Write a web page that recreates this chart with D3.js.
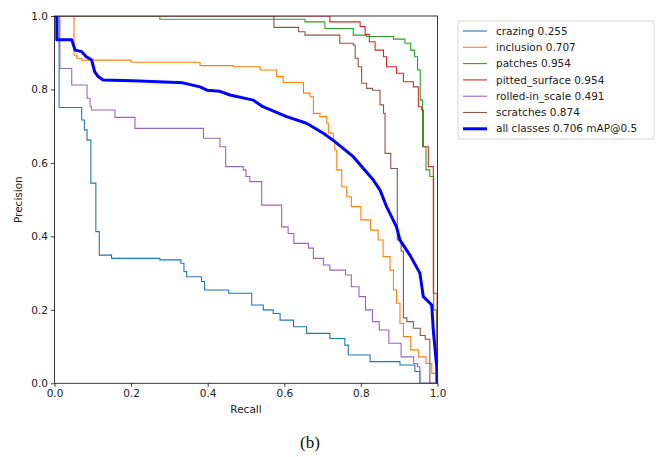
<!DOCTYPE html>
<html>
<head>
<meta charset="utf-8">
<script src="https://cdn.jsdelivr.net/npm/d3@7"></script>
<style>
  html, body { margin: 0; padding: 0; background: #fff; }
  #wrapper { width: 666px; height: 457px; }
  text { font-family: "DejaVu Sans", sans-serif; }
</style>
</head>
<body>
<div id="wrapper"></div>
<script>
// 1. Data: [recall where a precision level starts, precision]
const crazing = [
  [0, 1.0], [0.012, 0.751], [0.071, 0.717], [0.078, 0.69], [0.085, 0.662],
  [0.095, 0.545], [0.108, 0.413], [0.117, 0.349], [0.149, 0.34], [0.275, 0.336],
  [0.33, 0.327], [0.338, 0.304], [0.345, 0.29], [0.384, 0.277], [0.392, 0.254],
  [0.455, 0.245], [0.515, 0.213], [0.545, 0.2], [0.571, 0.19], [0.589, 0.172],
  [0.624, 0.154], [0.658, 0.136], [0.719, 0.122], [0.758, 0.104], [0.767, 0.077],
  [0.824, 0.059], [0.902, 0.05], [0.941, 0.032], [0.954, 0], [1.0, 0]
]
const inclusion = [
  [0, 1.0], [0.051, 0.894], [0.058, 0.885], [0.071, 0.88], [0.2, 0.874],
  [0.38, 0.865], [0.467, 0.862], [0.537, 0.853], [0.58, 0.835], [0.597, 0.819],
  [0.65, 0.79], [0.667, 0.78], [0.676, 0.735], [0.693, 0.726], [0.711, 0.708],
  [0.715, 0.681], [0.728, 0.662], [0.732, 0.635], [0.737, 0.581], [0.75, 0.535],
  [0.763, 0.508], [0.775, 0.481], [0.8, 0.445], [0.825, 0.417], [0.845, 0.39],
  [0.858, 0.345], [0.876, 0.308], [0.885, 0.254], [0.893, 0.218], [0.902, 0.163],
  [0.911, 0.127], [0.93, 0.091], [0.95, 0.072], [0.97, 0.054], [0.985, 0.027],
  [0.995, 0], [1.0, 0]
]
const patches = [
  [0, 1.0], [0.275, 0.991], [0.654, 0.984], [0.706, 0.966], [0.78, 0.948],
  [0.815, 0.944], [0.885, 0.937], [0.915, 0.926], [0.93, 0.907], [0.94, 0.889],
  [0.948, 0.853], [0.955, 0.771], [0.961, 0.644], [0.97, 0.581], [0.98, 0.563],
  [0.99, 0.2], [0.997, 0], [1.0, 0]
]
const pittedSurface = [
  [0, 1.0], [0.719, 0.984], [0.798, 0.971], [0.811, 0.95], [0.822, 0.93],
  [0.837, 0.907], [0.859, 0.889], [0.867, 0.862], [0.893, 0.844], [0.911, 0.821],
  [0.937, 0.807], [0.95, 0.753], [0.959, 0.744], [0.963, 0.644], [0.976, 0.59],
  [0.989, 0.245], [0.999, 0], [1.0, 0]
]
const rolledInScale = [
  [0, 1.0], [0.014, 0.857], [0.045, 0.812], [0.085, 0.776], [0.093, 0.753],
  [0.097, 0.744], [0.158, 0.724], [0.21, 0.694], [0.389, 0.667], [0.432, 0.644],
  [0.447, 0.59], [0.493, 0.581], [0.5, 0.563], [0.51, 0.549], [0.541, 0.485],
  [0.593, 0.426], [0.61, 0.408], [0.625, 0.381], [0.663, 0.368], [0.676, 0.34],
  [0.702, 0.322], [0.719, 0.308], [0.76, 0.295], [0.775, 0.263], [0.795, 0.236],
  [0.812, 0.2], [0.83, 0.168], [0.848, 0.145], [0.873, 0.109], [0.905, 0.072],
  [0.938, 0.054], [0.948, 0.045], [0.954, 0], [1.0, 0]
]
const scratches = [
  [0, 1.0], [0.573, 0.969], [0.637, 0.957], [0.654, 0.948], [0.745, 0.926],
  [0.78, 0.921], [0.785, 0.885], [0.793, 0.862], [0.802, 0.817], [0.815, 0.803],
  [0.83, 0.798], [0.85, 0.758], [0.859, 0.735], [0.863, 0.626], [0.878, 0.585],
  [0.895, 0.39], [0.905, 0.36], [0.911, 0.178], [0.92, 0.168], [0.937, 0.15],
  [0.955, 0.13], [0.968, 0.12], [0.98, 0], [1.0, 0]
]
// mean curve, drawn as a polyline
const allClasses = [
  [0, 1.0], [0.006, 1.0], [0.006, 0.935], [0.045, 0.935], [0.054, 0.907],
  [0.071, 0.903], [0.083, 0.889], [0.097, 0.88], [0.105, 0.848], [0.114, 0.835],
  [0.127, 0.826], [0.205, 0.824], [0.335, 0.818], [0.38, 0.807], [0.398, 0.798],
  [0.432, 0.795], [0.458, 0.785], [0.519, 0.771], [0.544, 0.753], [0.606, 0.726],
  [0.658, 0.708], [0.702, 0.681], [0.732, 0.658], [0.78, 0.617], [0.832, 0.554],
  [0.85, 0.526], [0.867, 0.481], [0.893, 0.426], [0.902, 0.39], [0.928, 0.349],
  [0.954, 0.3], [0.963, 0.236], [0.985, 0.213], [0.989, 0.145], [0.998, 0.045],
  [1.0, 0]
]

const classNames = ["crazing", "inclusion", "patches", "pitted_surface", "rolled-in_scale", "scratches"]
const classAP = [0.255, 0.707, 0.954, 0.954, 0.491, 0.874]
const classCurves = [crazing, inclusion, patches, pittedSurface, rolledInScale, scratches]
const classColors = ["#1f77b4", "#ff7f0e", "#2ca02c", "#d62728", "#9467bd", "#8c564b"]
const allLabel = "all classes 0.706 mAP@0.5"
const tickValues = [0, 0.2, 0.4, 0.6, 0.8, 1.0]

// 2. Dimensions
const dimensions = {
  width: 666,
  height: 457,
  margin: { top: 16, left: 54.5 },
  boundedWidth: 383,
  boundedHeight: 367.3,
}

// 3. Canvas
const wrapper = d3.select("#wrapper")
  .append("svg")
  .attr("width", dimensions.width)
  .attr("height", dimensions.height)

const bounds = wrapper.append("g")
  .attr("transform", `translate(${dimensions.margin.left},${dimensions.margin.top})`)

bounds.append("clipPath")
  .attr("id", "plot-clip")
  .append("rect")
  .attr("width", dimensions.boundedWidth)
  .attr("height", dimensions.boundedHeight)

// 4. Scales
const xScale = d3.scaleLinear().domain([0, 1]).range([0, dimensions.boundedWidth])
const yScale = d3.scaleLinear().domain([0, 1]).range([dimensions.boundedHeight, 0])

// 5. Curves
const stepLine = d3.line()
  .x(d => xScale(d[0]))
  .y(d => yScale(d[1]))
  .curve(d3.curveStepAfter)

const lines = bounds.append("g").attr("clip-path", "url(#plot-clip)")

classCurves.forEach((curve, i) => {
  lines.append("path")
    .datum(curve)
    .attr("d", stepLine)
    .attr("fill", "none")
    .attr("stroke", classColors[i])
    .attr("stroke-width", 1.1)
})

lines.append("path")
  .datum(allClasses)
  .attr("d", stepLine.curve(d3.curveLinear))
  .attr("fill", "none")
  .attr("stroke", "#0000ff")
  .attr("stroke-width", 3)
  .attr("stroke-linejoin", "round")

// 6. Peripherals
const xAxis = bounds.append("g")
  .attr("transform", `translate(0,${dimensions.boundedHeight})`)
  .call(d3.axisBottom(xScale).tickValues(tickValues).tickFormat(d3.format(".1f"))
    .tickSize(3.5).tickPadding(3).tickSizeOuter(0))
const yAxis = bounds.append("g")
  .call(d3.axisLeft(yScale).tickValues(tickValues).tickFormat(d3.format(".1f"))
    .tickSize(3.5).tickPadding(3).tickSizeOuter(0))

;[xAxis, yAxis].forEach(axis => {
  axis.select(".domain").remove()
  axis.selectAll(".tick line").attr("stroke", "#222").attr("stroke-width", 0.9)
  axis.selectAll(".tick text")
    .attr("fill", "#222")
    .style("font-size", "10.5px")
    .style("font-family", "'DejaVu Sans', sans-serif")
})

bounds.append("rect")
  .attr("width", dimensions.boundedWidth)
  .attr("height", dimensions.boundedHeight)
  .attr("fill", "none")
  .attr("stroke", "#222")
  .attr("stroke-width", 0.9)

wrapper.append("text")
  .attr("x", dimensions.margin.left + dimensions.boundedWidth / 2)
  .attr("y", 413)
  .attr("text-anchor", "middle")
  .style("font-size", "10.5px")
  .attr("fill", "#222")
  .text("Recall")

wrapper.append("text")
  .attr("transform", `translate(22,${dimensions.margin.top + dimensions.boundedHeight / 2}) rotate(-90)`)
  .attr("text-anchor", "middle")
  .style("font-size", "10.5px")
  .attr("fill", "#222")
  .text("Precision")

// legend
const legend = wrapper.append("g").attr("transform", "translate(458,21)")
legend.append("rect")
  .attr("width", 196)
  .attr("height", 118)
  .attr("rx", 2)
  .attr("fill", "#fff")
  .attr("stroke", "#d6d6d6")

const legendRows = classNames.map((name, i) => ({
  label: `${name} ${classAP[i].toFixed(3)}`,
  color: classColors[i],
  width: 1.1,
})).concat([{ label: allLabel, color: "#0000ff", width: 3 }])

const rows = legend.selectAll(".row")
  .data(legendRows)
  .enter()
  .append("g")
  .attr("transform", (d, i) => `translate(0,${10 + i * 16.3})`)
rows.append("line")
  .attr("x1", 5).attr("x2", 29)
  .attr("stroke", d => d.color)
  .attr("stroke-width", d => d.width)
rows.append("text")
  .attr("x", 38)
  .attr("dy", "0.35em")
  .style("font-size", "10.5px")
  .attr("fill", "#222")
  .text(d => d.label)

// caption
wrapper.append("text")
  .attr("x", 310)
  .attr("y", 448)
  .attr("text-anchor", "middle")
  .style("font-family", "'Liberation Serif', 'Times New Roman', serif")
  .style("font-size", "17px")
  .attr("fill", "#111")
  .text("(b)")
</script>
</body>
</html>
